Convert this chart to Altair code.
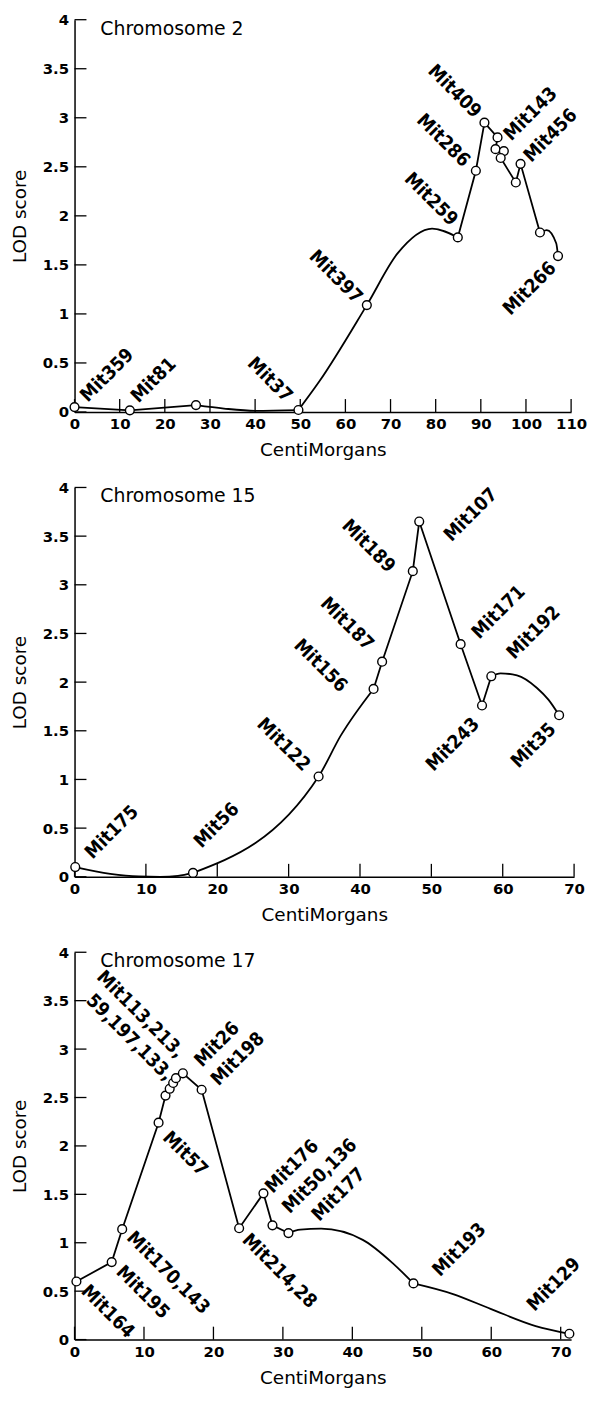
import altair as alt
import pandas as pd

FONT = "DejaVu Sans"
LABEL_FONT = "DejaVu Sans Condensed"
Y_TICKS = [0, 0.5, 1, 1.5, 2, 2.5, 3, 3.5, 4]

# ---------------- Chromosome 2 ----------------
c2_title = "Chromosome 2"
c2_x_domain = [0, 110]
c2_x_ticks = [0, 10, 20, 30, 40, 50, 60, 70, 80, 90, 100, 110]
c2_marker_x = [0, 12.25, 26.9, 49.6, 64.75, 84.9, 88.9, 90.8, 93.7, 93.25, 95.1, 94.4, 97.75, 98.8, 103.1, 107.1]
c2_marker_y = [0.05, 0.017, 0.07, 0.02, 1.09, 1.78, 2.46, 2.95, 2.80, 2.68, 2.66, 2.59, 2.34, 2.53, 1.83, 1.59]
c2_straight_x = [0, 12.25, 26.9, 84.9, 88.9, 90.8, 93.7, 93.25, 95.1, 94.4, 97.75, 98.8, 103.1]
c2_straight_y = [0.05, 0.017, 0.07, 1.78, 2.46, 2.95, 2.80, 2.68, 2.66, 2.59, 2.34, 2.53, 1.83]
c2_straight_piece = [1, 1, 1, 2, 2, 2, 2, 2, 2, 2, 2, 2, 2]
c2_curve_x = [26.9, 33.1, 40.0, 49.6, 49.6, 54.2, 64.75, 71.6, 79.2, 84.9, 103.1, 104.6, 106.7, 107.1]
c2_curve_y = [0.07, 0.035, 0.012, 0.02, 0.02, 0.31, 1.09, 1.62, 1.87, 1.78, 1.83, 1.855, 1.72, 1.59]
c2_curve_piece = [1, 1, 1, 1, 2, 2, 2, 2, 2, 2, 3, 3, 3, 3]
c2_label_text = ["Mit359", "Mit81", "Mit37", "Mit397", "Mit259", "Mit286", "Mit409", "Mit143", "Mit456", "Mit266"]
c2_label_x = [7.2, 17.5, 43.3, 57.9, 79.0, 81.7, 84.2, 101.0, 105.4, 100.8]
c2_label_y = [0.376, 0.325, 0.33, 1.38, 2.17, 2.77, 3.27, 3.04, 2.82, 1.26]
c2_label_angle = [315, 315, 45, 45, 45, 45, 45, 315, 315, 315]

# ---------------- Chromosome 15 ----------------
c15_title = "Chromosome 15"
c15_x_domain = [0, 70]
c15_x_ticks = [0, 10, 20, 30, 40, 50, 60, 70]
c15_marker_x = [0.1, 16.6, 34.2, 41.9, 43.1, 47.4, 48.3, 54.1, 57.1, 58.4, 67.9]
c15_marker_y = [0.10, 0.04, 1.03, 1.93, 2.21, 3.14, 3.65, 2.39, 1.76, 2.06, 1.66]
c15_straight_x = [41.9, 43.1, 47.4, 48.3, 54.1, 57.1, 58.4]
c15_straight_y = [1.93, 2.21, 3.14, 3.65, 2.39, 1.76, 2.06]
c15_straight_piece = [1, 1, 1, 1, 1, 1, 1]
c15_curve_x = [0.1, 5.0, 9.0, 12.0, 14.5, 16.6, 16.6, 34.2, 37.3, 41.9, 58.4, 59.7, 62.0, 64.8, 66.4, 67.9]
c15_curve_y = [0.10, 0.03, 0.003, 0.0, 0.01, 0.04, 0.04, 1.03, 1.45, 1.93, 2.06, 2.09, 2.07, 1.94, 1.82, 1.66]
c15_curve_piece = [1, 1, 1, 1, 1, 1, 2, 2, 2, 2, 3, 3, 3, 3, 3, 3]
c15_label_text = ["Mit175", "Mit56", "Mit122", "Mit156", "Mit187", "Mit189", "Mit107", "Mit171", "Mit192", "Mit243", "Mit35"]
c15_label_x = [5.2, 19.9, 29.3, 34.5, 38.2, 41.2, 55.5, 59.4, 64.3, 53.0, 64.3]
c15_label_y = [0.46, 0.53, 1.36, 2.17, 2.60, 3.40, 3.72, 2.72, 2.51, 1.36, 1.35]
c15_label_angle = [315, 315, 45, 45, 45, 45, 315, 315, 315, 315, 315]

# ---------------- Chromosome 17 ----------------
c17_title = "Chromosome 17"
c17_x_domain = [0, 71.5]
c17_x_ticks = [0, 10, 20, 30, 40, 50, 60, 70]
c17_marker_x = [0.27, 5.35, 6.86, 12.1, 13.1, 13.7, 14.2, 14.6, 15.6, 18.3, 23.7, 27.2, 28.5, 30.8, 48.8, 71.25]
c17_marker_y = [0.60, 0.80, 1.14, 2.24, 2.52, 2.59, 2.65, 2.70, 2.75, 2.58, 1.15, 1.51, 1.18, 1.10, 0.58, 0.06]
c17_straight_x = [0.27, 5.35, 6.86, 12.1, 13.1, 13.7, 14.2, 14.6, 15.6, 18.3, 23.7, 27.2, 28.5, 30.8]
c17_straight_y = [0.60, 0.80, 1.14, 2.24, 2.52, 2.59, 2.65, 2.70, 2.75, 2.58, 1.15, 1.51, 1.18, 1.10]
c17_straight_piece = [1] * 14
c17_curve_x = [30.8, 32.5, 35.5, 41.5, 45.8, 48.8, 48.8, 54.5, 59.9, 66.4, 71.25]
c17_curve_y = [1.10, 1.135, 1.145, 1.03, 0.79, 0.58, 0.58, 0.47, 0.317, 0.14, 0.06]
c17_curve_piece = [1, 1, 1, 1, 1, 1, 2, 2, 2, 2, 2]
c17_label_text = ["Mit113,213,", "59,197,133,", "Mit26", "Mit198", "Mit57", "Mit176", "Mit50,136",
                  "Mit177", "Mit170,143", "Mit195", "Mit164", "Mit214,28", "Mit193", "Mit129"]
c17_label_x = [9.5, 7.95, 20.5, 23.5, 15.95, 31.3, 35.3, 38.0, 13.5, 9.84, 4.8, 29.5, 55.4, 69.0]
c17_label_y = [3.36, 3.12, 3.05, 2.90, 1.92, 1.79, 1.69, 1.50, 0.69, 0.49, 0.29, 0.71, 0.93, 0.57]
c17_label_angle = [45, 45, 315, 315, 45, 315, 315, 315, 45, 45, 45, 45, 315, 315]


def panel(title, xdom, xticks, w, h, mx, my, sx, sy, sp, cx, cy, cp, lt, lx, ly, la):
    xs = alt.Scale(domain=xdom, nice=False, zero=False)
    ys = alt.Scale(domain=[0, 4], nice=False)
    xaxis = alt.Axis(values=xticks, format="d", labelPadding=5, titlePadding=9,
                     labelFlush=False, labelOverlap=False)
    yaxis = alt.Axis(values=Y_TICKS, format="~g", labelPadding=6, titlePadding=13,
                     labelFlush=False, labelOverlap=False)

    def X():
        return alt.X("x:Q", scale=xs, axis=xaxis, title="CentiMorgans")

    def Y():
        return alt.Y("y:Q", scale=ys, axis=yaxis, title="LOD score")

    xt = alt.Chart(pd.DataFrame({"x": xticks})).mark_rule(color="black", strokeWidth=1.3).encode(
        x=X(), y=alt.value(h), y2=alt.value(h - 13))
    yt = alt.Chart(pd.DataFrame({"y": Y_TICKS})).mark_rule(color="black", strokeWidth=1.3).encode(
        y=Y(), x=alt.value(0), x2=alt.value(12))
    sdf = pd.DataFrame({"x": sx, "y": sy, "piece": sp, "o": list(range(len(sx)))})
    cdf = pd.DataFrame({"x": cx, "y": cy, "piece": cp, "o": list(range(len(cx)))})
    straight = alt.Chart(sdf).mark_line(color="black", strokeWidth=1.8, interpolate="linear").encode(
        x=X(), y=Y(), detail="piece:N", order="o:Q")
    curve = alt.Chart(cdf).mark_line(color="black", strokeWidth=1.8, interpolate="monotone").encode(
        x=X(), y=Y(), detail="piece:N", order="o:Q")
    pts = alt.Chart(pd.DataFrame({"x": mx, "y": my})).mark_point(
        shape="circle", filled=True, fill="white", stroke="black", strokeWidth=1.4, size=78, opacity=1
    ).encode(x=X(), y=Y())
    labels = alt.Chart(pd.DataFrame({"x": lx, "y": ly, "t": lt, "a": la})).mark_text(
        font=LABEL_FONT, fontWeight="bold", fontSize=19, align="center", baseline="middle", color="black"
    ).encode(x=X(), y=Y(), text="t:N", angle=alt.Angle("a:Q", scale=None))
    ttl = alt.Chart(pd.DataFrame({"t": [title]})).mark_text(
        font=FONT, fontSize=19, align="left", baseline="middle", color="black"
    ).encode(text="t:N", x=alt.value(26), y=alt.value(9))
    return alt.layer(xt, yt, curve, straight, pts, labels, ttl).properties(width=w, height=h)


p1 = panel(c2_title, c2_x_domain, c2_x_ticks, 500, 395, c2_marker_x, c2_marker_y,
           c2_straight_x, c2_straight_y, c2_straight_piece, c2_curve_x, c2_curve_y, c2_curve_piece,
           c2_label_text, c2_label_x, c2_label_y, c2_label_angle)
p2 = panel(c15_title, c15_x_domain, c15_x_ticks, 503, 392, c15_marker_x, c15_marker_y,
           c15_straight_x, c15_straight_y, c15_straight_piece, c15_curve_x, c15_curve_y, c15_curve_piece,
           c15_label_text, c15_label_x, c15_label_y, c15_label_angle)
p3 = panel(c17_title, c17_x_domain, c17_x_ticks, 500, 390, c17_marker_x, c17_marker_y,
           c17_straight_x, c17_straight_y, c17_straight_piece, c17_curve_x, c17_curve_y, c17_curve_piece,
           c17_label_text, c17_label_x, c17_label_y, c17_label_angle)

chart = alt.vconcat(p1, p2, p3, spacing=76, bounds="flush").properties(
    padding={"left": 2, "top": 0, "right": 0, "bottom": 0},
    background="white",
).configure_view(strokeWidth=0).configure_axis(
    domainColor="black", domainWidth=1.5, ticks=False, tickSize=0, grid=False,
    labelFont=FONT, labelFontWeight="bold", labelFontSize=15, labelColor="black",
    titleFont=FONT, titleFontWeight="normal", titleFontSize=18.5, titleColor="black",
)

chart.save("out.html", embed_options={"renderer": "svg", "actions": False})
